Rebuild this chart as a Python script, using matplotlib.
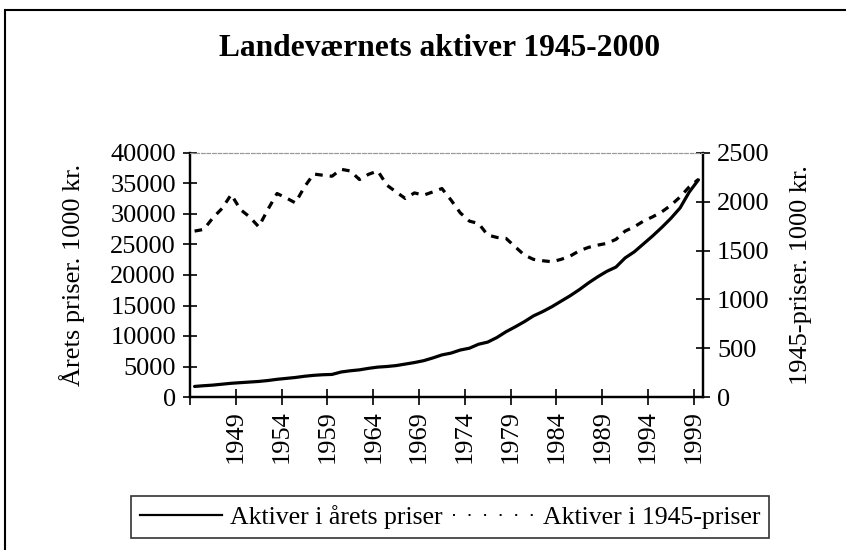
import numpy as np
import matplotlib
matplotlib.use('Agg')
import matplotlib.pyplot as plt
from matplotlib.lines import Line2D
from matplotlib.patches import Rectangle

plt.rcParams['font.family'] = ['Liberation Serif', 'DejaVu Serif']

# DATA ---------------------------------------------------------------------------------------------
years = list(range(1945, 2001))
# Aktiver i årets priser (venstre akse, 1000 kr.)
aktiver_aarets = [1730, 1850, 1950, 2100, 2250, 2350, 2450, 2550, 2700, 2900,
                  3050, 3200, 3400, 3550, 3650, 3700, 4100, 4300, 4450, 4700,
                  4900, 5000, 5150, 5400, 5650, 5950, 6400, 6900, 7200, 7700,
                  8000, 8650, 9000, 9750, 10700, 11500, 12350, 13300, 14000, 14800,
                  15700, 16600, 17600, 18700, 19700, 20600, 21300, 22800, 23800, 25100,
                  26400, 27800, 29300, 31000, 33600, 35600]
# Aktiver i 1945-priser (højre akse, 1000 kr.)
aktiver_1945 = [1700, 1717, 1836, 1932, 2075, 1921, 1846, 1744, 1921, 2085,
                2040, 1989, 2153, 2285, 2272, 2262, 2333, 2316, 2228, 2282,
                2316, 2170, 2101, 2034, 2091, 2068, 2101, 2136, 2017, 1887,
                1802, 1778, 1659, 1635, 1625, 1539, 1454, 1410, 1396, 1386,
                1410, 1444, 1498, 1533, 1556, 1574, 1615, 1700, 1744, 1802,
                1846, 1897, 1965, 2050, 2153, 2230]
label_years = list(range(1949, 2000, 5))
left_ticks = list(range(0, 40001, 5000))
right_ticks = list(range(0, 2501, 500))
# --------------------------------------------------------------------------------------------------

fs = 19

fig = plt.figure(figsize=(8.46, 5.5), dpi=100)
ax = fig.add_axes([190/846, 1-397/550, 513/846, 244/550])
ax2 = ax.twinx()

ax.plot(years, aktiver_aarets, color='black', lw=2.3, solid_capstyle='round')
ax2.plot(years, aktiver_1945, color='black', lw=2.3, linestyle=(0, (2.4, 2.2)))

ax.set_xlim(1944.5, 2000.5)
ax.set_ylim(0, 40000)
ax2.set_ylim(0, 2500)

# x ticks between categories, labels every fifth year
tick_pos = [1944.5] + [y + 0.5 for y in label_years]
ax.set_xticks(tick_pos)
ax.set_xticklabels([''] + [str(y) for y in label_years], rotation=90, fontsize=fs)
ax.tick_params(axis='x', direction='inout', length=11, width=1.2, pad=4)

ax.set_yticks(left_ticks)
ax.set_yticklabels([str(v) for v in left_ticks], fontsize=fs)
ax.tick_params(axis='y', direction='inout', length=10, width=1.2, pad=5)
ax2.set_yticks(right_ticks)
ax2.set_yticklabels([str(v) for v in right_ticks], fontsize=fs)
ax2.tick_params(axis='y', direction='inout', length=10, width=1.2, pad=5)

for a in (ax, ax2):
    a.spines['left'].set_linewidth(1.6)
    a.spines['right'].set_linewidth(1.6)
    a.spines['bottom'].set_linewidth(1.6)
    a.spines['top'].set_color('#999999')
    a.spines['top'].set_linestyle((0, (3, 2)))
    a.spines['top'].set_linewidth(0.8)

ax.set_ylabel('Årets priser. 1000 kr.', fontsize=fs)
ax.yaxis.set_label_coords(-0.205, 0.5)
ax2.set_ylabel('1945-priser. 1000 kr.', fontsize=fs, rotation=90)
ax2.yaxis.set_label_coords(1.17, 0.5)

fig.text(440/846, 1-48/550, 'Landeværnets aktiver 1945-2000', ha='center', va='center',
         fontsize=22.7, fontweight='bold')

handles = [Line2D([], [], color='black', lw=1.6),
           Line2D([], [], color='black', lw=1.4, linestyle=(0, (1, 7)))]
leg = fig.legend(handles, ['Aktiver i årets priser', 'Aktiver i 1945-priser'],
                 loc='center', bbox_to_anchor=(450/846, 1-517/550), ncol=2,
                 fontsize=18.5, frameon=True, fancybox=False, handlelength=3.2,
                 handletextpad=0.3, columnspacing=0.4, borderpad=0.35,
                 borderaxespad=0)
leg.get_frame().set_edgecolor('black')
leg.get_frame().set_linewidth(1.2)

# chart area border
fig.patches.append(Rectangle((5/846, -0.05), 1.2, 1.05-10/550, transform=fig.transFigure,
                             fill=False, edgecolor='black', lw=1.5, clip_on=False))

fig.savefig('out.png', dpi=100)
